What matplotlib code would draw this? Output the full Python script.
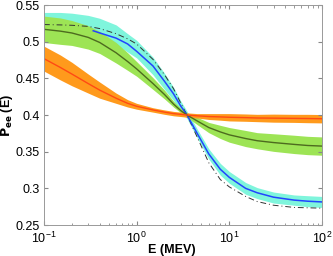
import numpy as np
import matplotlib
matplotlib.use("Agg")
import matplotlib.pyplot as plt

plt.rcParams['font.family'] = ['Liberation Sans', 'DejaVu Sans']

# energy grid (MeV)
E = [0.1, 0.15, 0.2, 0.3, 0.4, 0.6, 0.8, 1, 1.5, 2, 2.5, 3, 3.5, 4.5, 6, 8, 10, 15, 20, 30, 50, 70, 100]

# cyan band + blue curve
cyan_hi = [0.540, 0.540, 0.539, 0.536, 0.532, 0.523, 0.511, 0.502, 0.479, 0.457, 0.438, 0.419, 0.405,
           0.381, 0.354, 0.334, 0.323, 0.308, 0.301, 0.295, 0.291, 0.290, 0.289]
cyan_lo = [0.522, 0.521, 0.519, 0.514, 0.508, 0.496, 0.486, 0.478, 0.455, 0.435, 0.420, 0.405, 0.395,
           0.369, 0.340, 0.318, 0.307, 0.292, 0.286, 0.280, 0.277, 0.275, 0.274]
E_blue = [0.34, 0.4, 0.6, 0.8, 1, 1.5, 2, 2.5, 3, 3.5, 4.5, 6, 8, 10, 15, 20, 30, 50, 70, 100]
blue = [0.515, 0.512, 0.505, 0.497, 0.487, 0.467, 0.446, 0.429, 0.412, 0.400, 0.375, 0.347, 0.326,
        0.315, 0.300, 0.294, 0.288, 0.284, 0.2825, 0.2815]

# dash-dot reference curve
dashed = [0.5235, 0.523, 0.5225, 0.521, 0.518, 0.511, 0.504, 0.497, 0.476, 0.455, 0.436, 0.416, 0.400,
          0.370, 0.335, 0.312, 0.302, 0.289, 0.282, 0.277, 0.274, 0.2735, 0.273]

# green curve and half width
green = [0.517, 0.5145, 0.512, 0.506, 0.499, 0.485, 0.473, 0.463, 0.443, 0.428, 0.415, 0.406, 0.400,
         0.392, 0.383, 0.377, 0.373, 0.368, 0.365, 0.3625, 0.360, 0.3585, 0.3577]
green_w = [0.018, 0.018, 0.017, 0.016, 0.015, 0.014, 0.012, 0.010, 0.008, 0.006, 0.004, 0.003, 0.003,
           0.005, 0.007, 0.009, 0.010, 0.011, 0.011, 0.012, 0.0125, 0.0125, 0.0125]

# orange curve and half width
orange = [0.477, 0.465, 0.456, 0.443, 0.434, 0.423, 0.416, 0.412, 0.407, 0.404, 0.402, 0.401, 0.400,
          0.399, 0.398, 0.3975, 0.397, 0.3965, 0.396, 0.3958, 0.3955, 0.3953, 0.395]
orange_w = [0.017, 0.017, 0.016, 0.013, 0.011, 0.007, 0.005, 0.004, 0.003, 0.003, 0.003, 0.003, 0.003,
            0.003, 0.004, 0.0045, 0.005, 0.005, 0.005, 0.0055, 0.0055, 0.0057, 0.0057]

E = np.array(E)
green, green_w = np.array(green), np.array(green_w)
orange, orange_w = np.array(orange), np.array(orange_w)

fig = plt.figure(figsize=(3.33, 2.56), dpi=100)
ax = fig.add_axes([0.132, 0.121, 0.835, 0.859])

ax.fill_between(E, cyan_lo, cyan_hi, color="#7ff5dc", lw=0)
ax.fill_between(E, green - green_w, green + green_w, color="#9de455", lw=0)
ax.fill_between(E, orange - orange_w, orange + orange_w, color="#ff9a1c", lw=0)

ax.plot(E, dashed, color="#333333", ls=(0, (6, 3, 1, 3)), lw=0.7)
ax.plot(E_blue, blue, color="#2244ff", lw=1.1)
ax.plot(E, green, color="#4d6b1f", lw=1.0)
ax.plot(E, orange, color="#ff4a14", lw=1.0)

ax.set_xscale("log")
ax.set_xlim(0.1, 100)
ax.set_ylim(0.25, 0.55)
ax.set_yticks([0.25, 0.3, 0.35, 0.4, 0.45, 0.5, 0.55])
ax.set_yticklabels(["0.25", "0.3", "0.35", "0.4", "0.45", "0.5", "0.55"])
ax.tick_params(which="both", direction="in", top=True, right=True, labelsize=9,
               color="#888888")
ax.tick_params(axis="y", pad=3)
ax.tick_params(axis="x", pad=4)
ax.tick_params(which="major", length=3)
ax.tick_params(which="minor", length=1.8)
for s in ax.spines.values():
    s.set_color("#999999")
    s.set_linewidth(0.7)

ax.set_xlabel("E (MEV)", fontsize=9, fontweight="bold")
ax.xaxis.set_label_coords(0.46, -0.085)
ax.set_ylabel(r"$\mathbf{P_{ee}}$ (E)", fontsize=9, fontweight="bold")
ax.yaxis.set_label_coords(-0.105, 0.5)

fig.savefig("out.png", dpi=100)
